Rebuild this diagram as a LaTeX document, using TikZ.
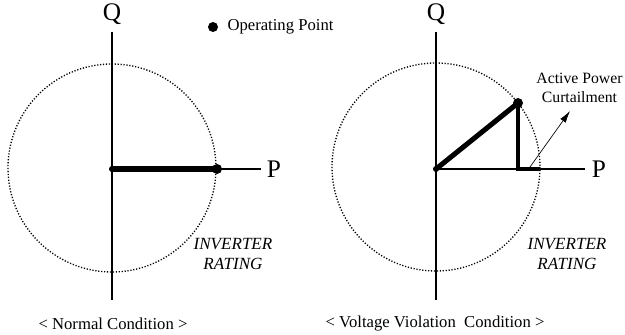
\documentclass[tikz,border=0pt]{standalone}
\usepackage{fontspec}
\setmainfont{Liberation Serif}
\usetikzlibrary{arrows.meta}
\tikzset{every picture/.style={line width=0.75pt}}

\begin{document}
\begin{tikzpicture}[x=0.75pt,y=0.75pt,yscale=-1,xscale=1,
    axis/.style={line width=1pt},
    rating/.style={line width=1pt, dash pattern=on 0.9pt off 1.3pt},
    opdot/.style={circle, fill=black, inner sep=0pt, minimum size=7.5pt},
    origdot/.style={circle, fill=black, inner sep=0pt, minimum size=4.5pt},
    power/.style={line width=3.8pt, line cap=round},
    curtail/.style={line width=2.4pt},
    axlabel/.style={font=\fontsize{19}{21}\selectfont, inner sep=0pt},
    ratinglabel/.style={font=\fontsize{12.8}{15}\selectfont\itshape, align=center, inner sep=0pt},
    caption/.style={font=\fontsize{12.5}{14}\selectfont, inner sep=0pt}]
    \useasboundingbox (0,0) rectangle (625,335);

    %Left: normal condition
    \coordinate (lO) at (112,169);
    \coordinate (lQtop) at (112,32);
    \coordinate (lQbot) at (112,300);
    \coordinate (lPend) at (261,169);
    \draw [rating] (lO) ++(0,-1) circle (104);
    \draw [axis] (lQtop) -- (lQbot);
    \draw [axis] (lO) -- (lPend);
    \node [opdot] (lop) at (217,169) {};
    \draw [power] (lO) -- (lop.center);
    \node [origdot] (lorig) at (lO) {};
    \node [axlabel] (lQ) at (112,14) {Q};
    \node [axlabel] (lP) at (274,169) {P};
    \node [ratinglabel] (lrating) at (233,254) {INVERTER\\RATING};
    \node [caption] (lcap) at (113,324) {< Normal Condition >};

    %Legend
    \node [opdot] (legdot) at (213,27) {};
    \node [caption, anchor=west] (legtext) at (227,27) {Operating Point};

    %Right: voltage violation condition
    \coordinate (rO) at (436,169);
    \coordinate (rQtop) at (436,32);
    \coordinate (rQbot) at (436,300);
    \coordinate (rPend) at (585,169);
    \coordinate (rfoot) at (518,169);
    \coordinate (rcut) at (540,169);
    \draw [rating] (rO) ++(0,-2) circle (104);
    \draw [axis] (rQtop) -- (rQbot);
    \draw [axis] (rO) -- (rPend);
    \node [opdot] (rop) at (518,103) {};
    \draw [power] (rO) -- (rop.center);
    \draw [curtail] (rop.center) -- (rfoot) -- (rcut);
    \node [origdot] (rorig) at (rO) {};
    \coordinate (arrstart) at (530,167);
    \coordinate (arrend) at (570,111);
    \draw [line width=0.5pt, -{Latex[length=9pt,width=5pt]}] (arrstart) -- (arrend);
    \node [axlabel] (rQ) at (436,14) {Q};
    \node [axlabel] (rP) at (599,169) {P};
    \node [ratinglabel] (rrating) at (567,254) {INVERTER\\RATING};
    \node [caption, align=center, anchor=east, font=\fontsize{11.8}{14}\selectfont] (apc) at (623,88) {Active Power\\Curtailment};
    \node [caption] (rcap) at (435,324) {< Voltage Violation\ \ Condition >};
\end{tikzpicture}
\end{document}
